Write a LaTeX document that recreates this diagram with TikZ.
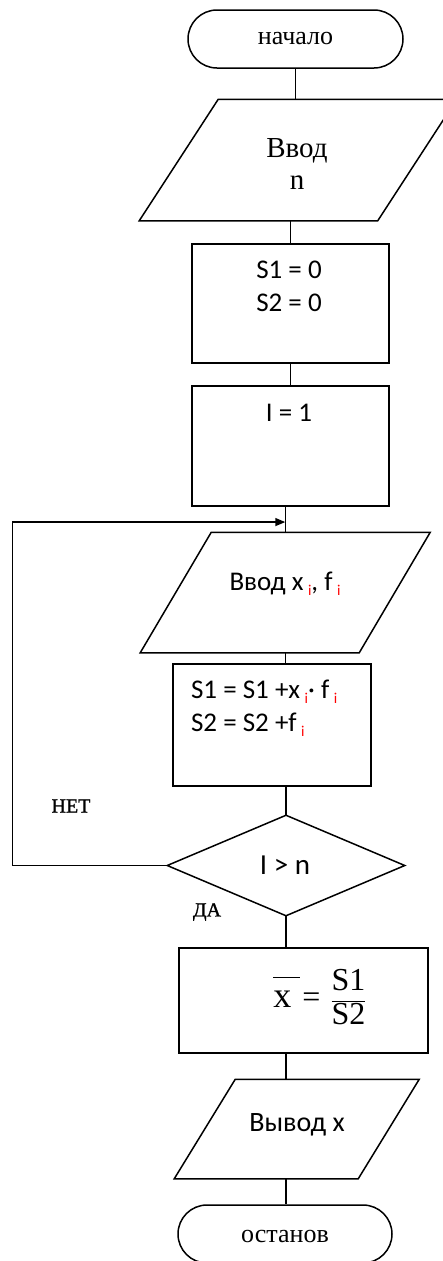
\documentclass[tikz,border=0pt]{standalone}
\usepackage{fontspec}
\setmainfont{Liberation Serif}
\newfontfamily\carl{Carlito}
\newfontfamily\heavyserif[FakeBold=1.2]{Liberation Serif}
\usetikzlibrary{calc,arrows.meta}

% small red index set below the line
\newcommand{\redsub}[1]{\raisebox{-5pt}{\fontsize{15}{15}\selectfont\textcolor{red}{#1}}}
% slanted input/output outline around a plain rectangular node
\newcommand{\ioshape}[2]{\draw ($(#1.north west)+(#2,0)$) -- ($(#1.north east)+(#2,0)$) -- ($(#1.south east)-(#2,0)$) -- ($(#1.south west)-(#2,0)$) -- cycle;}

\begin{document}
\begin{tikzpicture}[x=1pt,y=-1pt,line width=1.5pt,
  frame/.style={rectangle,inner sep=0pt},
  box/.style={frame,draw},
  term/.style={frame,draw,rounded corners=29pt,minimum height=58pt},
  serif/.style={font=\fontsize{26}{32}\selectfont},
  sans/.style={font=\carl\fontsize{27}{33}\selectfont},
  tag/.style={font=\heavyserif\fontsize{20}{24}\selectfont},
  flow/.style={-{Triangle[length=10pt,width=8pt]}}]
\useasboundingbox (0,0) rectangle (443,1261);
\clip (0,0) rectangle (443,1261);

% start
\node[term,minimum width=215pt] (start) at (295.5,39) {};
\node[serif] (startlbl) at (295.5,38) {начало};

% input n
\node[frame,minimum width=237pt,minimum height=120pt] (in1) at (298,160) {};
\ioshape{in1}{39.5}
\node[font=\fontsize{29}{32}\selectfont,align=center] (in1lbl) at (297,164) {Ввод\\n};

% initial sums
\node[box,minimum width=197pt,minimum height=119pt] (init) at (290.5,303.5) {};
\node[sans,align=center] (initlbl) at (289,286) {S1 = 0\\S2 = 0};

% counter
\node[box,minimum width=197pt,minimum height=120pt] (iset) at (290.5,446) {};
\node[sans] (isetlbl) at (289,413) {I = 1};

% input of x_i, f_i
\node[frame,minimum width=217.5pt,minimum height=119pt] (in2) at (285.25,592.5) {};
\ioshape{in2}{35.5}
\node[sans] (in2lbl) at (285,584) {Ввод x\,\redsub{i}, f\,\redsub{i}};

% accumulate
\node[box,minimum width=198pt,minimum height=122pt] (calc) at (272,725) {};
\node[sans,align=left,anchor=west] (calclbl) at (187,708) {S1 = S1 +x\,\redsub{i}· f\,\redsub{i}\\S2 = S2 +f\,\redsub{i}};

% loop test
\node[frame,minimum width=236pt,minimum height=99pt] (dec) at (286,865.5) {};
\draw (dec.north) -- (dec.east) -- (dec.south) -- (dec.west) -- cycle;
\node[sans,font=\carl\fontsize{29}{33}\selectfont] (declbl) at (285,865) {I > n};
\node[tag] (no) at (71,806) {НЕТ};
\node[tag] (yes) at (207,912) {ДА};

% mean value
\node[box,minimum width=249pt,minimum height=105pt] (mean) at (303.5,1000.5) {};
\node[font=\fontsize{32}{34}\selectfont,anchor=base,inner sep=0pt] (meanlbl) at (320,1007)
  {$\overline{\mbox{\fontsize{36}{36}\selectfont x\hspace{9pt}\rule{0pt}{28pt}}}\hspace{2pt}\mbox{=}\hspace{10pt}\displaystyle\frac{\mbox{S1}}{\mbox{S2}}$};

% output
\node[frame,minimum width=182.5pt,minimum height=98pt] (out) at (296.75,1129) {};
\ioshape{out}{30.5}
\node[sans,font=\carl\fontsize{28}{33}\selectfont] (outlbl) at (297,1125) {Вывод x};

% stop
\node[term,minimum width=214pt] (stop) at (285,1234) {};
\node[serif] (stoplbl) at (285,1236) {останов};

% connectors
\coordinate (join) at ($(iset.south -| in2.north)!0.6!(in2.north)$);
\draw (start.south) -- (start.south |- in1.north);
\draw (in1.south -| init.north) -- (init.north);
\draw (init.south) -- (iset.north);
\draw (iset.south -| in2.north) -- (in2.north);
\draw (in2.south) -- (in2.south |- calc.north);
\draw (calc.south -| dec.north) -- (dec.north);
\draw (dec.south) -- (dec.south |- mean.north);
\draw (mean.south -| dec.south) -- (out.north -| dec.south);
\draw (out.south -| dec.south) -- (stop.north -| dec.south);
\draw[flow] (dec.west) -- ++(-155,0) |- (join);
\end{tikzpicture}
\end{document}
